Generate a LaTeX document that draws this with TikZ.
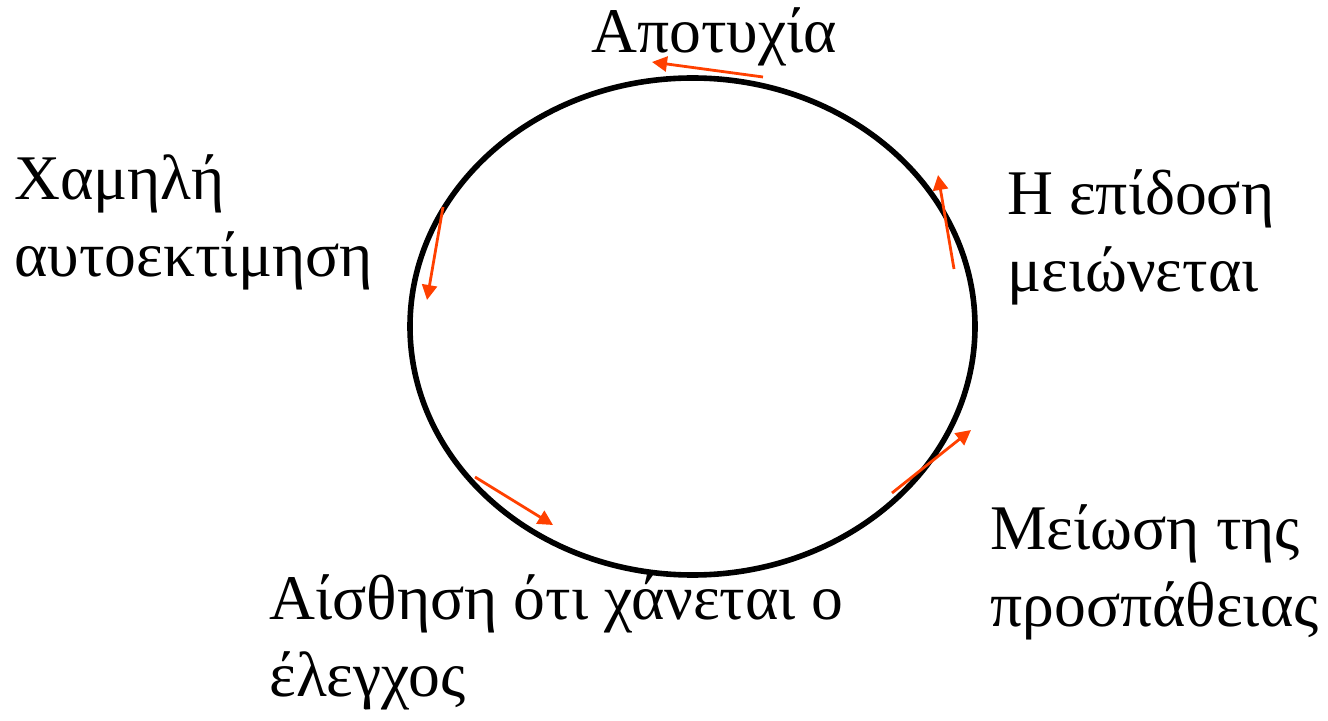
\documentclass[tikz,border=0pt]{standalone}
\usepackage{fontspec}
\setmainfont{Liberation Serif}
\usepackage{xcolor}
\usepackage{tikz}
\usetikzlibrary{arrows.meta}
\definecolor{cyclered}{RGB}{255,64,0}

\begin{document}
\begin{tikzpicture}[x=0.5pt, y=-0.5pt, >={Triangle[length=7.5pt,width=7.5pt]}]
\tikzstyle{lbl}=[inner sep=0pt, anchor=base west, align=left, font=\fontsize{31.8}{38.5}\selectfont]
\tikzstyle{ring}=[line width=2.8pt, black]
\tikzstyle{turn}=[->, line width=1.4pt, cyclered]
\useasboundingbox (0,0) rectangle (1328,721);
\draw[ring] (692.5,326.5) ellipse [x radius=282.5, y radius=248.5];
\node[lbl] (fail) at (591,53) {Αποτυχία};
\node[lbl] (esteem) at (14,277) {Χαμηλή\\αυτοεκτίμηση};
\node[lbl] (perf) at (1007,292) {Η επίδοση\\μειώνεται};
\node[lbl] (effort) at (990,626) {Μείωση της\\προσπάθειας};
\node[lbl] (control) at (269,696) {Αίσθηση ότι χάνεται ο\\έλεγχος};
\coordinate (f0) at (763,77);   \coordinate (f1) at (652,62);
\coordinate (e0) at (443,207);  \coordinate (e1) at (427,300);
\coordinate (p0) at (954,269);  \coordinate (p1) at (938,175);
\coordinate (m0) at (892,493);  \coordinate (m1) at (971,430);
\coordinate (c0) at (475,477);  \coordinate (c1) at (553,525);
\draw[turn] (f0) -- (f1);
\draw[turn] (e0) -- (e1);
\draw[turn] (p0) -- (p1);
\draw[turn] (m0) -- (m1);
\draw[turn] (c0) -- (c1);
\end{tikzpicture}
\end{document}
